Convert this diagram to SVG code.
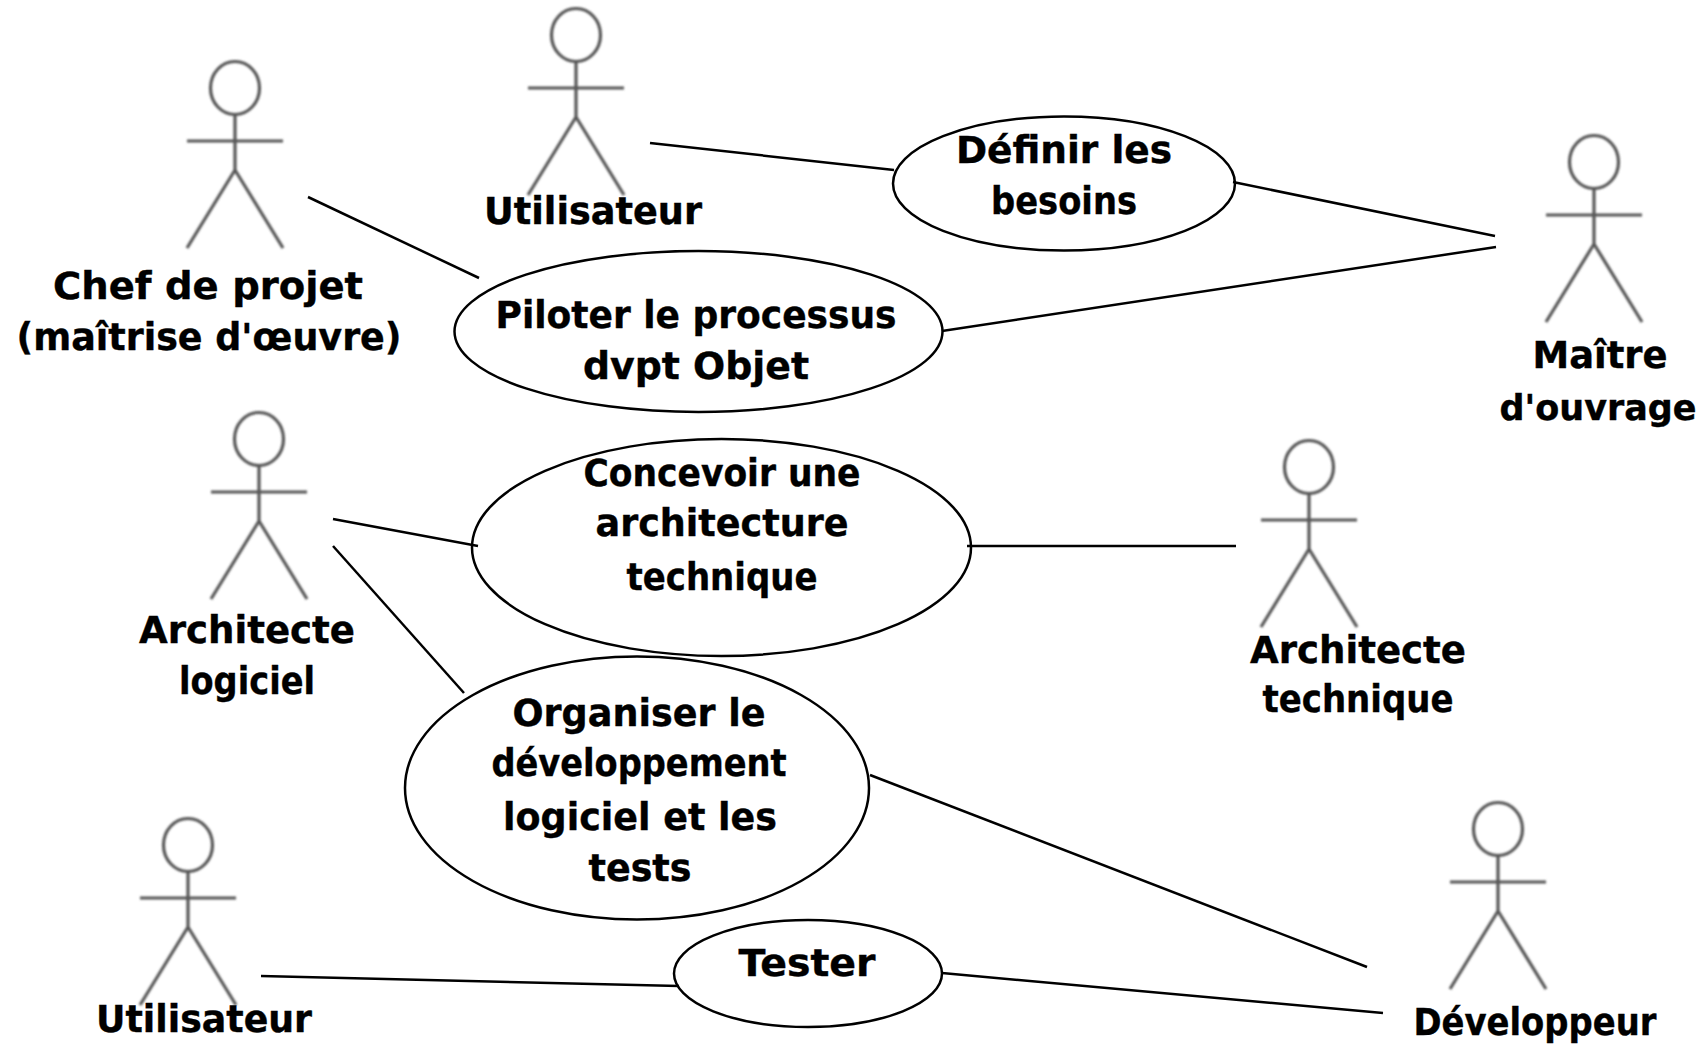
<svg xmlns="http://www.w3.org/2000/svg" width="1706" height="1047" viewBox="0 0 1706 1047">
<style>
.bg{fill:#fff}
.c{stroke:#000;stroke-width:2.5;fill:none}
.e{stroke:#000;stroke-width:2.5;fill:#fff}
.a{stroke:#555;stroke-width:3.2;fill:none}
text{font-family:"DejaVu Sans",sans-serif;font-weight:bold;font-size:37px;fill:#000;text-anchor:middle;stroke:#000;stroke-width:.4}
</style>
<defs>
<filter id="soft" x="-10%" y="-10%" width="120%" height="120%"><feGaussianBlur stdDeviation="0.8"/></filter>
<g id="actor" filter="url(#soft)">
<ellipse cx="0" cy="-53" rx="24.5" ry="26.5" class="a"/>
<path class="a" d="M0-27V29M-48 0H48M0 29L-48 107M0 29L48 107"/>
</g>
</defs>
<rect class="bg" width="1706" height="1047"/>
<g id="actor-chef"><use href="#actor" x="235" y="141"/><text x="208" y="299" textLength="310" lengthAdjust="spacingAndGlyphs">Chef de projet</text><text x="209" y="350" textLength="385" lengthAdjust="spacingAndGlyphs">(maîtrise d'œuvre)</text></g>
<g id="actor-utilisateur-1"><use href="#actor" x="576" y="88"/><text x="593" y="224" textLength="218" lengthAdjust="spacingAndGlyphs">Utilisateur</text></g>
<g id="actor-maitre"><use href="#actor" x="1594" y="215"/><text x="1600" y="368" textLength="135" lengthAdjust="spacingAndGlyphs">Maître</text><text x="1598" y="420" font-size="35" style="font-size:35px" textLength="197" lengthAdjust="spacingAndGlyphs">d'ouvrage</text></g>
<g id="actor-archi-logiciel"><use href="#actor" x="259" y="492"/><text x="247" y="643" textLength="216" lengthAdjust="spacingAndGlyphs">Architecte</text><text x="247" y="694" textLength="136" lengthAdjust="spacingAndGlyphs">logiciel</text></g>
<g id="actor-archi-technique"><use href="#actor" x="1309" y="520"/><text x="1358" y="663" textLength="216" lengthAdjust="spacingAndGlyphs">Architecte</text><text x="1358" y="712" textLength="191" lengthAdjust="spacingAndGlyphs">technique</text></g>
<g id="actor-utilisateur-2"><use href="#actor" x="188" y="898"/><text x="204" y="1032" textLength="216" lengthAdjust="spacingAndGlyphs">Utilisateur</text></g>
<g id="actor-developpeur"><use href="#actor" x="1498" y="882"/><text x="1535" y="1035" textLength="243" lengthAdjust="spacingAndGlyphs">Développeur</text></g>
<g id="uc-definir"><ellipse class="e" cx="1064" cy="183.5" rx="171" ry="67"/><text x="1064" y="163" textLength="216" lengthAdjust="spacingAndGlyphs">Définir les</text><text x="1064" y="214" textLength="146" lengthAdjust="spacingAndGlyphs">besoins</text></g>
<g id="uc-piloter"><ellipse class="e" cx="698.5" cy="331.5" rx="244" ry="80.5"/><text x="696" y="328" textLength="401" lengthAdjust="spacingAndGlyphs">Piloter le processus</text><text x="696" y="379" textLength="226" lengthAdjust="spacingAndGlyphs">dvpt Objet</text></g>
<g id="uc-concevoir"><ellipse class="e" cx="721.5" cy="547.5" rx="249.5" ry="108.5"/><text x="722" y="486" textLength="277" lengthAdjust="spacingAndGlyphs">Concevoir une</text><text x="722" y="536" textLength="253" lengthAdjust="spacingAndGlyphs">architecture</text><text x="722" y="590" textLength="191" lengthAdjust="spacingAndGlyphs">technique</text></g>
<g id="uc-organiser"><ellipse class="e" cx="637" cy="788" rx="232" ry="131.5"/><text x="639" y="726" textLength="253" lengthAdjust="spacingAndGlyphs">Organiser le</text><text x="639" y="776" textLength="295" lengthAdjust="spacingAndGlyphs">développement</text><text x="640" y="830" textLength="274" lengthAdjust="spacingAndGlyphs">logiciel et les</text><text x="640" y="881" textLength="103" lengthAdjust="spacingAndGlyphs">tests</text></g>
<g id="uc-tester"><ellipse class="e" cx="808" cy="973.5" rx="134" ry="53.5"/><text x="807" y="976" textLength="137" lengthAdjust="spacingAndGlyphs">Tester</text></g>
<g id="connectors">
<path class="c" d="M308 197L479 278"/>
<path class="c" d="M650 143L894 170"/>
<path class="c" d="M1233 182L1495 236"/>
<path class="c" d="M942 331L1496 247"/>
<path class="c" d="M333 519L478 546"/>
<path class="c" d="M333 546L464 693"/>
<path class="c" d="M967 546H1236"/>
<path class="c" d="M870 775L1367 967"/>
<path class="c" d="M261 976L679 986"/>
<path class="c" d="M942 973L1383 1013"/>
</g>
</svg>
